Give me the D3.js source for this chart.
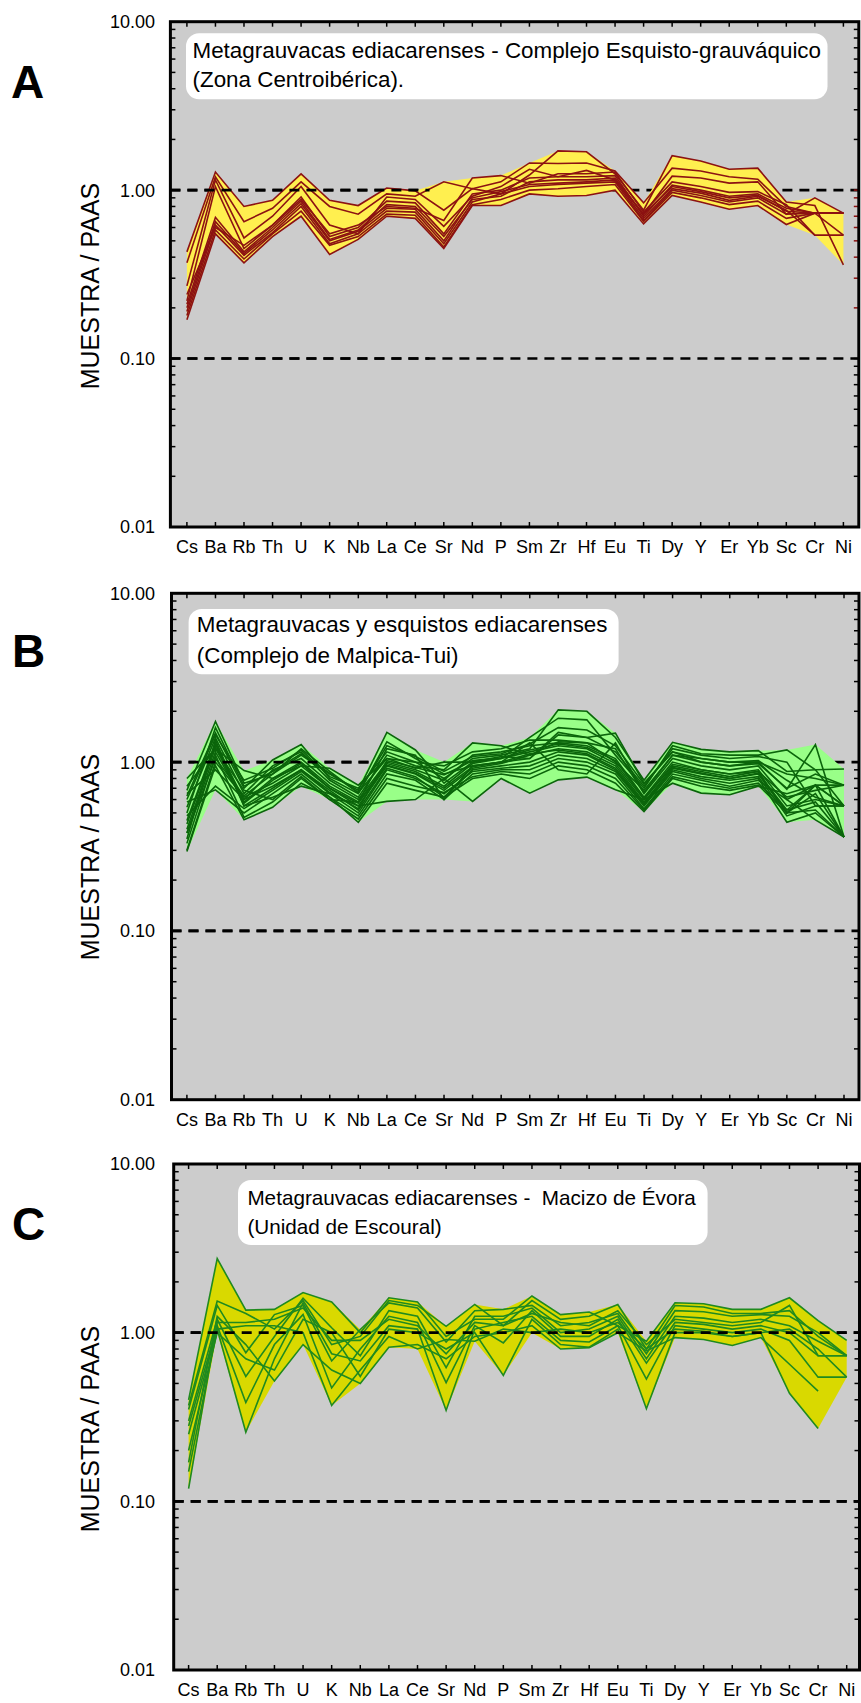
<!DOCTYPE html>
<html>
<head>
<meta charset="utf-8">
<script src="https://cdn.jsdelivr.net/npm/d3@7"></script>
<style>
  body { margin: 0; background: #ffffff; }
  svg text { font-family: "Liberation Sans", Arial, Helvetica, sans-serif; }
</style>
</head>
<body>
<svg id="fig" width="861" height="1703"></svg>
<script>
// Trace elements on the x axis (PAAS-normalised spider diagram)
const elements = ["Cs","Ba","Rb","Th","U","K","Nb","La","Ce","Sr","Nd","P","Sm","Zr","Hf","Eu","Ti","Dy","Y","Er","Yb","Sc","Cr","Ni"];

// Log axis labels
const yMajorTicks = [10, 1, 0.1, 0.01];
const yTickLabels = ["10.00", "1.00", "0.10", "0.01"];
const referenceLevels = [1, 0.1];
const yTitle = "MUESTRA / PAAS";

// A: Complejo Esquisto-grauváquico (sample / PAAS)
const samplesA = [
  [0.43,1.28,0.80,0.87,1.25,0.87,0.81,1.03,0.99,0.76,1.02,0.95,1.23,1.71,1.69,1.25,0.76,1.60,1.49,1.33,1.35,0.85,0.81,0.36],
  [0.37,1.20,0.65,0.78,1.12,0.80,0.72,0.95,0.92,1.12,1.02,1.12,1.45,1.44,1.45,1.30,0.84,1.35,1.30,1.20,1.16,0.80,0.73,0.73],
  [0.27,1.15,0.52,0.70,1.05,0.62,0.55,0.91,0.88,0.61,0.92,1.05,1.33,1.20,1.31,1.15,0.72,1.21,1.18,1.10,1.12,0.72,0.90,0.73],
  [0.22,1.05,0.45,0.62,0.91,0.53,0.60,0.86,0.84,0.55,0.95,1.00,1.18,1.20,1.20,1.22,0.70,1.07,1.00,0.92,0.95,0.78,0.73,0.54],
  [0.21,0.69,0.43,0.60,0.86,0.51,0.58,0.82,0.80,0.53,0.88,0.92,1.12,1.15,1.15,1.18,0.72,1.05,0.98,0.90,0.93,0.75,0.73,0.73],
  [0.20,0.65,0.42,0.58,0.83,0.50,0.57,0.78,0.77,0.50,0.90,0.98,1.08,1.10,1.12,1.15,0.68,1.02,0.96,0.87,0.92,0.76,0.54,0.54],
  [0.19,0.62,0.41,0.56,0.80,0.48,0.55,0.75,0.74,0.48,0.85,0.95,1.05,1.08,1.10,1.12,0.66,1.00,0.93,0.85,0.90,0.72,0.73,0.73],
  [0.18,0.58,0.39,0.55,0.75,0.47,0.53,0.72,0.71,0.46,0.82,0.88,1.00,1.02,1.05,1.08,0.65,0.97,0.90,0.82,0.86,0.68,0.73,0.73],
  [0.17,0.55,0.37,0.53,0.70,0.415,0.51,0.70,0.68,0.45,0.81,0.81,0.95,0.92,0.93,1.00,0.63,0.93,0.85,0.77,0.81,0.625,0.73,0.73],
  [0.24,0.60,0.47,0.62,0.88,0.55,0.62,0.80,0.78,0.66,1.18,1.22,1.10,1.25,1.25,1.28,0.74,1.12,1.05,0.97,0.98,0.82,0.54,0.54]
];

// B: Complejo de Malpica-Tui
const samplesB = [
  [0.80,1.20,0.89,0.80,0.95,0.92,0.73,1.05,1.00,0.80,1.05,1.10,1.20,2.04,2.00,1.40,0.78,1.31,1.19,1.15,1.17,0.88,0.90,0.91],
  [0.68,1.74,0.75,0.85,1.10,0.85,0.68,1.50,1.18,0.75,1.00,1.05,1.40,1.82,1.78,1.10,0.70,1.25,1.12,1.10,1.10,1.18,0.90,0.55],
  [0.63,1.49,0.70,1.03,1.27,0.80,0.65,1.32,1.05,0.85,0.95,1.00,1.05,1.50,1.40,1.485,0.75,1.15,1.00,0.95,1.00,0.69,1.27,0.36],
  [0.54,1.39,0.65,0.95,1.15,0.78,0.62,1.10,0.95,0.90,1.30,1.25,1.10,1.32,1.30,1.20,0.65,1.05,0.95,0.90,0.95,0.60,0.73,0.55],
  [0.43,1.27,0.60,0.90,1.05,0.75,0.60,1.00,0.90,0.78,1.10,1.15,1.25,1.30,1.25,1.05,0.62,1.00,0.90,0.85,0.90,0.55,0.60,0.55],
  [0.38,1.15,0.58,0.80,1.00,0.72,0.58,0.98,0.88,0.72,0.98,1.05,1.15,1.25,1.20,0.98,0.60,0.95,0.88,0.82,0.88,0.50,0.73,0.36],
  [0.30,1.00,0.62,0.75,0.95,0.70,0.55,0.95,0.85,0.68,0.92,0.98,1.10,1.20,1.15,0.95,0.58,0.92,0.85,0.80,0.85,0.50,0.65,0.36],
  [0.35,1.35,0.55,0.70,0.90,0.68,0.52,0.92,0.82,0.62,0.90,0.95,1.00,1.15,1.10,0.90,0.56,0.90,0.82,0.78,0.82,0.48,0.55,0.55],
  [0.48,0.72,0.53,0.68,0.88,0.65,0.50,0.90,0.80,0.65,0.88,0.92,0.95,1.10,1.05,0.88,0.55,0.88,0.80,0.75,0.80,0.44,0.50,0.36],
  [0.58,0.685,0.50,0.65,0.85,0.62,0.48,0.85,0.78,0.60,0.85,0.90,0.90,1.05,1.00,0.85,0.53,0.85,0.78,0.72,0.78,0.60,0.455,0.36],
  [0.33,1.10,0.47,0.58,0.80,0.60,0.46,0.80,0.72,0.66,0.82,0.88,0.85,1.00,0.95,0.80,0.52,0.82,0.75,0.70,0.75,0.52,0.73,0.55],
  [0.295,0.95,0.455,0.54,0.75,0.62,0.44,0.75,0.68,0.62,0.80,0.85,0.80,0.95,0.90,0.75,0.51,0.80,0.72,0.68,0.73,0.50,0.52,0.36],
  [0.45,1.30,0.55,0.62,0.72,0.65,0.55,0.585,0.60,0.80,0.585,0.80,0.655,0.785,0.815,0.685,0.60,0.75,0.655,0.64,0.72,0.65,0.73,0.73],
  [0.72,1.20,0.68,0.60,0.82,0.60,0.58,1.20,1.10,0.60,0.95,1.00,1.30,0.90,0.85,1.30,0.66,1.10,1.05,1.00,1.00,0.85,0.80,0.73],
  [0.38,1.05,0.63,0.85,1.20,0.88,0.66,1.05,0.92,1.00,1.00,1.08,1.05,1.45,1.40,1.15,0.72,1.20,1.10,1.05,1.08,1.00,0.55,0.55],
  [0.60,1.45,0.78,0.92,1.18,0.82,0.70,1.15,1.00,0.95,1.15,1.20,1.35,1.35,1.30,1.00,0.68,1.10,1.00,0.95,0.98,0.70,0.85,0.73],
  [0.50,1.60,0.72,0.88,1.12,0.86,0.66,1.25,1.08,0.88,1.08,1.12,1.28,1.60,1.55,1.25,0.74,1.15,1.05,1.00,1.02,0.78,0.62,0.55],
  [0.40,1.22,0.57,0.78,0.98,0.70,0.57,0.96,0.86,0.70,0.94,1.00,1.12,1.18,1.12,0.92,0.57,0.93,0.86,0.80,0.86,0.52,0.58,0.36],
  [0.65,0.90,0.60,0.72,0.90,0.66,0.53,1.02,0.93,0.84,1.02,1.06,1.18,1.28,1.22,1.02,0.61,0.97,0.90,0.85,0.88,0.62,0.68,0.73]
];

// C: Macizo de Évora, Unidad de Escoural (null = not analysed)
const samplesC = [
  [0.40,2.75,1.36,1.375,1.73,1.52,1.00,1.61,1.52,0.95,1.20,1.20,1.65,1.28,1.325,1.10,0.89,1.505,1.485,1.375,1.375,1.61,1.18,0.90],
  [0.37,1.54,1.30,1.05,1.55,0.85,0.95,1.55,1.45,1.09,1.47,1.10,1.55,1.20,1.25,1.47,0.80,1.45,1.42,1.30,1.30,1.35,0.95,0.73],
  [0.35,1.45,0.76,1.28,1.45,0.68,1.045,1.50,1.40,0.88,1.35,1.375,1.45,1.10,1.15,1.30,0.75,1.35,1.33,1.25,1.28,1.25,1.00,0.73],
  [0.30,1.20,0.55,0.95,1.60,1.07,0.73,1.35,1.25,0.62,1.25,1.25,1.40,1.00,1.05,1.25,0.70,1.25,1.22,1.15,1.20,1.10,0.89,0.73],
  [0.28,1.10,0.385,0.85,1.28,0.47,0.80,1.25,1.15,0.505,1.10,0.87,1.35,0.95,0.95,1.20,0.66,1.15,1.12,1.05,1.10,1.00,0.73,0.73],
  [0.25,1.05,0.257,0.70,1.50,0.75,0.68,1.10,1.05,0.346,1.05,1.15,1.25,0.90,0.88,1.10,0.53,1.10,1.05,1.00,1.05,0.90,0.545,0.545],
  [0.20,1.00,0.70,0.60,1.20,1.00,0.55,1.05,1.00,0.80,1.00,0.558,1.20,0.85,0.82,1.05,0.354,1.00,1.00,0.95,1.00,0.437,0.27,null],
  [0.17,1.25,0.85,0.517,0.85,0.60,0.50,0.82,0.85,0.70,0.95,1.00,1.10,0.80,0.815,1.00,0.78,0.935,0.91,0.84,0.935,0.65,0.45,null],
  [0.15,1.05,1.10,1.10,1.00,0.37,0.60,0.95,0.80,0.91,0.89,1.05,1.00,1.05,1.00,1.15,0.80,1.05,1.02,0.95,1.00,1.05,0.80,0.545],
  [0.119,1.15,1.15,1.20,1.40,0.90,0.90,1.20,1.10,0.75,1.15,1.10,1.30,1.15,1.10,1.35,0.85,1.20,1.15,1.10,1.15,1.45,0.73,0.73]
];

const captionA = ["Metagrauvacas ediacarenses - Complejo Esquisto-grauváquico", "(Zona Centroibérica)."];
const captionB = ["Metagrauvacas y esquistos ediacarenses", "(Complejo de Malpica-Tui)"];
const captionC = ["Metagrauvacas ediacarenses -  Macizo de Évora", "(Unidad de Escoural)"];

// Panel layout and styling
const panels = [
  { letter: "A", samples: samplesA, caption: captionA,
    fill: "#ffef4f", stroke: "#8c1212",
    frame: { x0: 170.4, x1: 858.8, y0: 21.7, y1: 527 }, xRange: [186.9, 843.4],
    box: { x: 186, y: 33.3, w: 641.5, h: 66 }, textX: 192.5, baselines: [57.5, 87], captionSize: 22.4,
    letterPos: [11, 98], titleCenter: 286, dashedOverUntil: "Ce", accentRight: [0.2, 1] },
  { letter: "B", samples: samplesB, caption: captionB,
    fill: "#99ff88", stroke: "#0b650b",
    frame: { x0: 171.5, x1: 859, y0: 593.3, y1: 1099.7 }, xRange: [186.9, 844],
    box: { x: 188.6, y: 609, w: 430, h: 65.3 }, textX: 196.8, baselines: [631.7, 663], captionSize: 22.4,
    letterPos: [12, 667], titleCenter: 857, dashedOverUntil: "Nb", accentRight: null },
  { letter: "C", samples: samplesC, caption: captionC,
    fill: "#d9d900", stroke: "#1f8a1f",
    frame: { x0: 173.7, x1: 859.5, y0: 1164, y1: 1670 }, xRange: [188.6, 846.7],
    box: { x: 238, y: 1180, w: 469.6, h: 65 }, textX: 247.4, baselines: [1205, 1233.5], captionSize: 20.7,
    letterPos: [12, 1240], titleCenter: 1429, dashedOverUntil: "Ni", accentRight: null }
];

const svg = d3.select("#fig");

// minor log ticks: 2..9 in each decade
const minorTicks = [];
[0.01, 0.1, 1].forEach(d => { for (let k = 2; k <= 9; k++) minorTicks.push(+(k * d).toFixed(3)); });
const sideTicks = minorTicks.concat([0.1, 1]);

panels.forEach(p => {
  const f = p.frame;
  const g = svg.append("g");
  const x = d3.scalePoint().domain(elements).range(p.xRange);
  const y = d3.scaleLog().domain([0.01, 10]).range([f.y1, f.y0]);

  // plot background
  g.append("rect").attr("x", f.x0).attr("y", f.y0)
    .attr("width", f.x1 - f.x0).attr("height", f.y1 - f.y0).attr("fill", "#cccccc");

  // reference levels (beneath the envelope)
  const dashed = (sel, x1) => sel.selectAll(null).data(referenceLevels).join("line")
    .attr("x1", f.x0).attr("x2", x1)
    .attr("y1", d => y(d)).attr("y2", d => y(d))
    .attr("stroke", "#000").attr("stroke-width", 2.6).attr("stroke-dasharray", "10,7");
  dashed(g, f.x1);

  // envelope of all samples
  const env = elements.map((el, i) => {
    const vals = p.samples.map(s => s[i]).filter(v => v != null);
    return { el, lo: d3.min(vals), hi: d3.max(vals) };
  });
  const area = d3.area().x(d => x(d.el)).y0(d => y(d.lo)).y1(d => y(d.hi));
  g.append("path").attr("d", area(env)).attr("fill", p.fill).attr("stroke", "none");

  // individual sample patterns
  const line = d3.line().defined(d => d.v != null).x(d => x(d.el)).y(d => y(d.v));
  g.selectAll(null).data(p.samples).join("path")
    .attr("d", s => line(s.map((v, i) => ({ el: elements[i], v }))))
    .attr("fill", "none").attr("stroke", p.stroke).attr("stroke-width", 1.6)
    .attr("stroke-linejoin", "miter");

  // reference levels drawn over the left part of the pattern
  const cutoff = x(p.dashedOverUntil) + x.step() / 2;
  dashed(g, Math.min(cutoff, f.x1));

  // caption box
  g.append("rect").attr("x", p.box.x).attr("y", p.box.y)
    .attr("width", p.box.w).attr("height", p.box.h).attr("rx", 13).attr("ry", 13)
    .attr("fill", "#ffffff");
  g.selectAll(null).data(p.caption).join("text")
    .attr("x", p.textX).attr("y", (d, i) => p.baselines[i])
    .attr("font-size", p.captionSize).attr("fill", "#000")
    .style("white-space", "pre")
    .text(d => d);

  // ticks on the four sides
  const tl = 5;
  g.selectAll(null).data(sideTicks).join("line")
    .attr("x1", f.x0).attr("x2", f.x0 + tl)
    .attr("y1", d => y(d)).attr("y2", d => y(d))
    .attr("stroke", "#000").attr("stroke-width", 1.5);
  g.selectAll(null).data(sideTicks).join("line")
    .attr("x1", f.x1 - tl).attr("x2", f.x1)
    .attr("y1", d => y(d)).attr("y2", d => y(d))
    .attr("stroke", d => (p.accentRight && d >= p.accentRight[0] - 1e-9 && d <= p.accentRight[1] + 1e-9) ? p.stroke : "#000")
    .attr("stroke-width", 1.5);
  g.selectAll(null).data(elements).join("line")
    .attr("x1", d => x(d)).attr("x2", d => x(d))
    .attr("y1", f.y0).attr("y2", f.y0 + tl)
    .attr("stroke", "#000").attr("stroke-width", 1.5);
  g.selectAll(null).data(elements).join("line")
    .attr("x1", d => x(d)).attr("x2", d => x(d))
    .attr("y1", f.y1 - tl).attr("y2", f.y1)
    .attr("stroke", "#000").attr("stroke-width", 1.5);

  // frame
  g.append("rect").attr("x", f.x0).attr("y", f.y0)
    .attr("width", f.x1 - f.x0).attr("height", f.y1 - f.y0)
    .attr("fill", "none").attr("stroke", "#000").attr("stroke-width", 3);

  // y tick labels
  g.selectAll(null).data(yMajorTicks).join("text")
    .attr("x", 155).attr("y", d => y(d)).attr("dy", "0.36em")
    .attr("text-anchor", "end").attr("font-size", 18).attr("fill", "#000")
    .text((d, i) => yTickLabels[i]);

  // x labels
  g.selectAll(null).data(elements).join("text")
    .attr("x", d => x(d)).attr("y", f.y1 + 26)
    .attr("text-anchor", "middle").attr("font-size", 18).attr("fill", "#000")
    .text(d => d);

  // axis title
  g.append("text")
    .attr("transform", `translate(99,${p.titleCenter}) rotate(-90)`)
    .attr("text-anchor", "middle").attr("font-size", 25).attr("fill", "#000")
    .text(yTitle);

  // panel letter
  g.append("text").attr("x", p.letterPos[0]).attr("y", p.letterPos[1])
    .attr("font-size", 46).attr("font-weight", "bold").attr("fill", "#000")
    .text(p.letter);
});
</script>
</body>
</html>
